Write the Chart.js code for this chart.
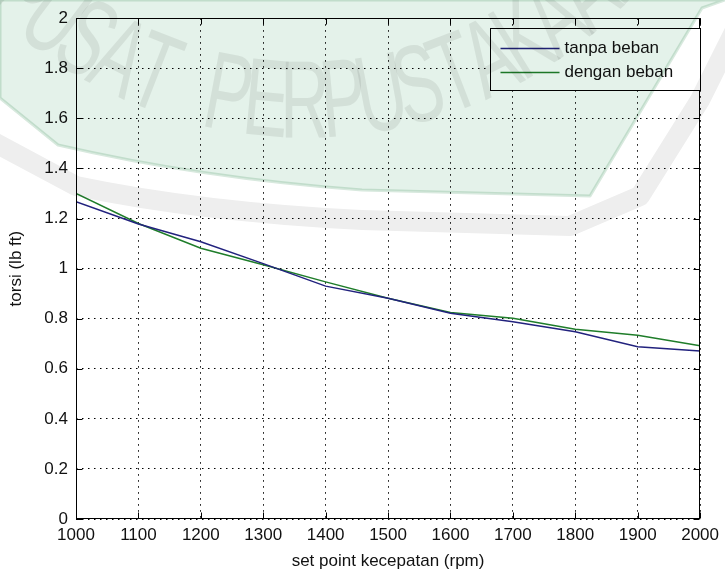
<!DOCTYPE html>
<html>
<head>
<meta charset="utf-8">
<script src="https://cdn.jsdelivr.net/npm/chart.js@4.4.1/dist/chart.umd.min.js"></script>
<style>
  html, body { margin: 0; padding: 0; background: #fff; }
  #wrap { width: 725px; height: 574px; }
</style>
</head>
<body>
<div id="wrap"><canvas id="torsi-chart" width="725" height="574"></canvas></div>
<script>
// set point kecepatan (rpm)
var kecepatan = [1000, 1100, 1200, 1300, 1400, 1500, 1600, 1700, 1800, 1900, 2000];
// torsi (lb ft)
var tanpaBeban = [1.267, 1.178, 1.107, 1.02, 0.93, 0.882, 0.822, 0.788, 0.748, 0.688, 0.671];
var denganBeban = [1.30, 1.18, 1.081, 1.015, 0.947, 0.882, 0.825, 0.802, 0.758, 0.734, 0.692];
var seriesLabels = ["tanpa beban", "dengan beban"];
var watermarkText = "PUSAT PERPUSTAKAAN";

var FONT = "'Liberation Sans', Arial, sans-serif";

function pairs(ys) {
	return kecepatan.map(function (x, i) { return { x: x, y: ys[i] }; });
}

// MATLAB style box, inward ticks and boxed legend
var axesBox = {
	id: "axesBox",
	afterDatasetsDraw: function (chart) {
		var ctx = chart.ctx, a = chart.chartArea;
		var xs = chart.scales.x, ys = chart.scales.y;
		var L = Math.round(a.left) + 0.5, R = Math.round(a.right) - 0.5;
		var T = Math.round(a.top) + 0.5, B = Math.round(a.bottom) - 0.5;
		ctx.save();
		ctx.strokeStyle = "#000";
		ctx.lineWidth = 1;
		ctx.setLineDash([]);
		ctx.strokeRect(L, T, R - L, B - T);
		ctx.beginPath();
		xs.ticks.forEach(function (t) {
			var px = Math.round(xs.getPixelForValue(t.value)) + 0.5;
			ctx.moveTo(px, B); ctx.lineTo(px, B - 6);
			ctx.moveTo(px, T); ctx.lineTo(px, T + 6);
		});
		ys.ticks.forEach(function (t) {
			var py = Math.round(ys.getPixelForValue(t.value)) + 0.5;
			ctx.moveTo(L, py); ctx.lineTo(L + 6, py);
			ctx.moveTo(R, py); ctx.lineTo(R - 6, py);
		});
		ctx.stroke();

		// legend
		var w = 210, h = 62;
		var lx = Math.round(a.right - w) + 0.5, ly = Math.round(a.top + 10) + 0.5;
		ctx.fillStyle = "#fff";
		ctx.fillRect(lx, ly, w, h);
		ctx.strokeRect(lx, ly, w, h);
		ctx.font = "17px " + FONT;
		ctx.textBaseline = "middle";
		ctx.textAlign = "left";
		chart.data.datasets.forEach(function (ds, i) {
			var ry = ly + 20 + i * 24;
			ctx.strokeStyle = ds.borderColor;
			ctx.lineWidth = 1.5;
			ctx.beginPath();
			ctx.moveTo(lx + 10, ry);
			ctx.lineTo(lx + 69, ry);
			ctx.stroke();
			ctx.fillStyle = "#111";
			ctx.fillText(ds.label, lx + 74, ry);
		});
		ctx.restore();
	},
	afterDraw: function (chart) {
		// library watermark laid over the figure
		var ctx = chart.ctx;
		ctx.save();
		ctx.globalCompositeOperation = "multiply";
		ctx.lineJoin = "round";

		// grey outer band
		ctx.beginPath();
		ctx.moveTo(-10, 140);
		ctx.lineTo(76, 186);
		ctx.quadraticCurveTo(200, 212, 362, 220);
		ctx.lineTo(570, 226);
		ctx.lineTo(640, 196);
		ctx.lineTo(700, 100);
		ctx.lineTo(735, 30);
		ctx.lineWidth = 20;
		ctx.strokeStyle = "#eeeeee";
		ctx.stroke();

		// green shield
		ctx.beginPath();
		ctx.moveTo(0, 0);
		ctx.lineTo(0, 98);
		ctx.lineTo(58, 145);
		ctx.quadraticCurveTo(200, 178, 362, 190);
		ctx.lineTo(590, 196);
		ctx.lineTo(702, 8);
		ctx.lineTo(725, 0);
		ctx.closePath();
		ctx.fillStyle = "#e4f2ea";
		ctx.fill();
		ctx.lineWidth = 3;
		ctx.strokeStyle = "#d8e9de";
		ctx.stroke();

		// lettering along the arc
		ctx.font = "110px " + FONT;
		ctx.textAlign = "center";
		ctx.textBaseline = "middle";
		ctx.fillStyle = "#ececec";
		var cx = 305, cy = -313, rad = 420;
		for (var i = 0; i < watermarkText.length; i++) {
			var th = (90 + (8 - i) * 5.3) * Math.PI / 180;
			ctx.save();
			ctx.translate(cx + rad * Math.cos(th), cy + rad * Math.sin(th));
			ctx.rotate(th - Math.PI / 2);
			ctx.scale(0.62, 1);
			ctx.fillText(watermarkText[i], 0, 0);
			ctx.restore();
		}
		ctx.restore();
	}
};

var ctx = document.getElementById("torsi-chart").getContext("2d");
var torsiChart = new Chart(ctx, {
	type: "line",
	data: {
		datasets: [
			{
				label: seriesLabels[0],
				data: pairs(tanpaBeban),
				borderColor: "#22227e",
				borderWidth: 1.5,
				pointRadius: 0,
				fill: false,
				tension: 0,
			},
			{
				label: seriesLabels[1],
				data: pairs(denganBeban),
				borderColor: "#1f7d2a",
				borderWidth: 1.5,
				pointRadius: 0,
				fill: false,
				tension: 0,
			},
		],
	},
	options: {
		responsive: false,
		animation: false,
		devicePixelRatio: 1,
		layout: { padding: { top: 18, right: 23, left: 0, bottom: 0 } },
		plugins: {
			legend: { display: false },
			tooltip: { enabled: false },
		},
		scales: {
			x: {
				type: "linear",
				min: 1000,
				max: 2000,
				ticks: {
					stepSize: 100,
					padding: 6,
					color: "#111",
					font: { family: FONT, size: 17 },
					maxRotation: 0,
					callback: function (v) { return String(v); },
				},
				grid: { color: "#000", lineWidth: 1, drawTicks: false },
				border: { display: false, dash: [1.5, 4.5] },
				title: {
					display: true,
					text: "set point kecepatan (rpm)",
					color: "#111",
					font: { family: FONT, size: 17 },
					padding: { top: 0, bottom: 2 },
				},
				afterFit: function (s) { s.height = 55; },
			},
			y: {
				min: 0,
				max: 2,
				ticks: {
					stepSize: 0.2,
					padding: 8,
					color: "#111",
					font: { family: FONT, size: 17 },
					callback: function (v) { return String(Number(v.toFixed(1))); },
				},
				grid: { color: "#000", lineWidth: 1, drawTicks: false },
				border: { display: false, dash: [1.5, 4.5] },
				title: {
					display: true,
					text: "torsi (lb ft)",
					color: "#111",
					font: { family: FONT, size: 17 },
					padding: { top: 6, bottom: 0 },
				},
				afterFit: function (s) { s.width = 76; },
			},
		},
	},
	plugins: [axesBox],
});
</script>
</body>
</html>
